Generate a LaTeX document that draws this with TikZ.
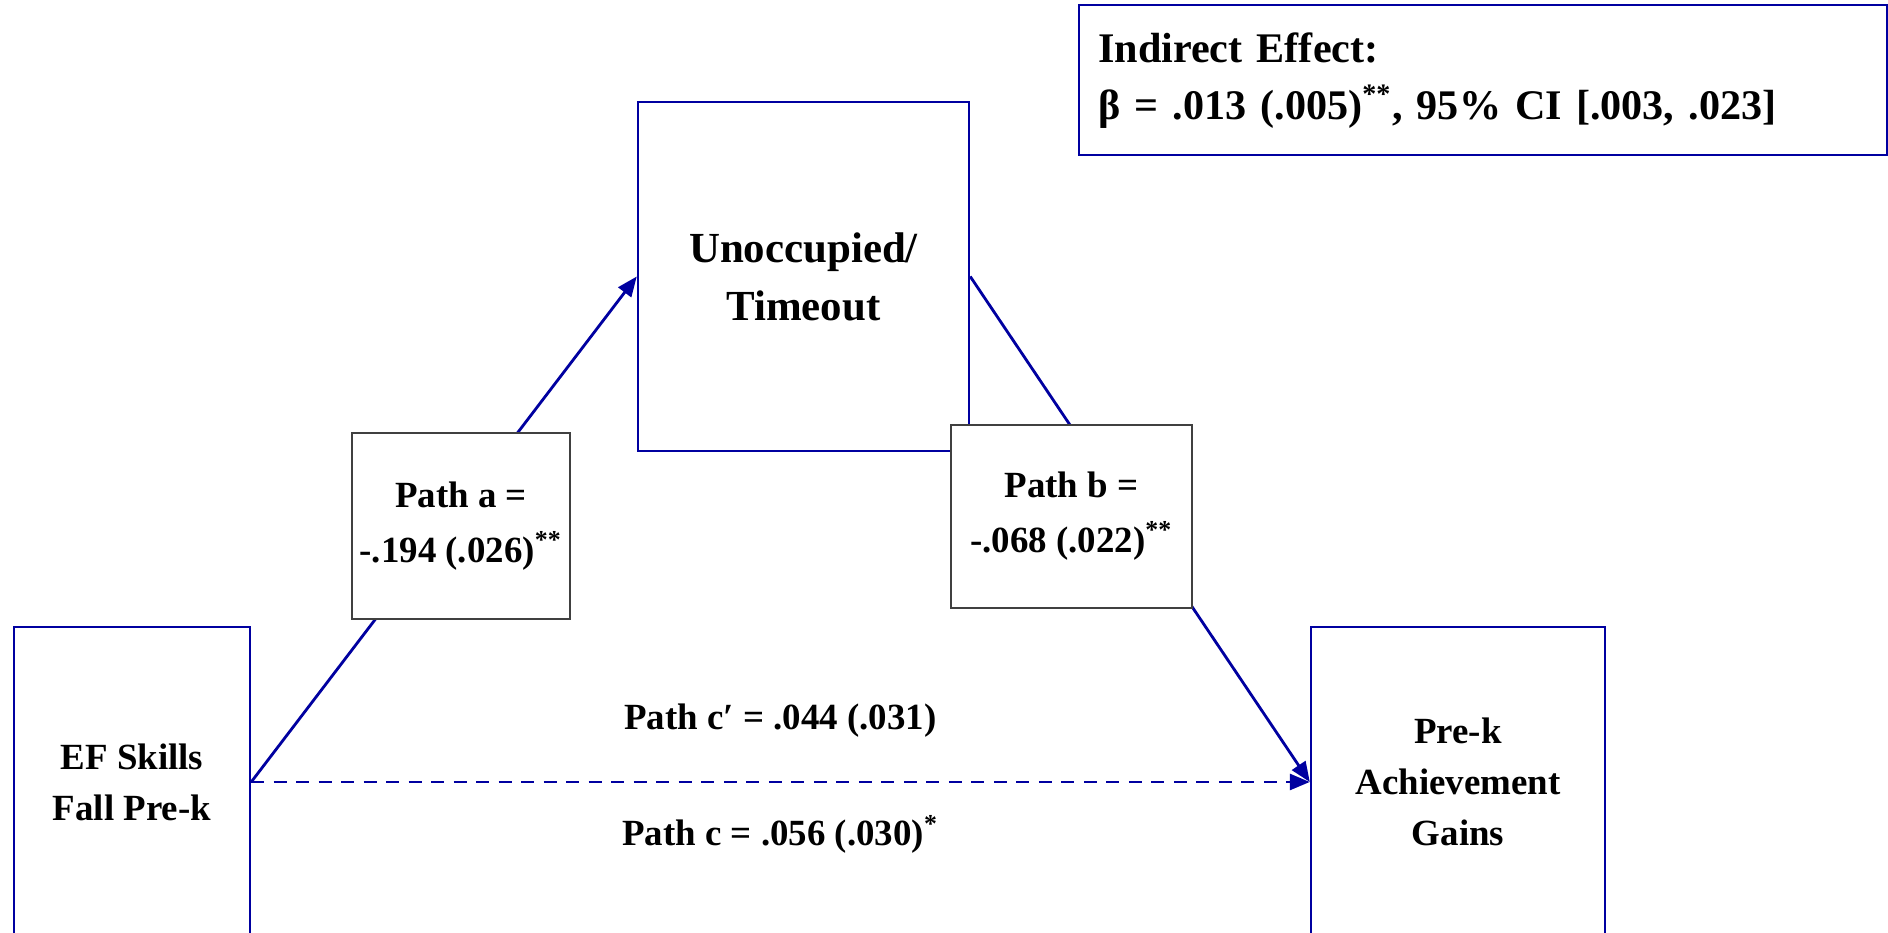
\documentclass[tikz,border=0pt]{standalone}
\usepackage{fontspec}
\setmainfont{Liberation Serif}
\usetikzlibrary{arrows.meta,positioning}
\definecolor{navy}{RGB}{0,0,160}

\begin{document}
\begin{tikzpicture}[line width=0.7pt,>={Triangle[length=0.2cm,width=0.16cm]},
  varbox/.style={draw=navy,fill=white,align=center,font=\fontsize{10.5}{14.5}\selectfont\bfseries},
  pathbox/.style={draw=black!75,line width=0.45pt,fill=white,align=center,inner xsep=0.05cm,
                  font=\fontsize{10.5}{15.6}\selectfont\bfseries},
  pathtxt/.style={anchor=base,font=\fontsize{10.5}{14.5}\selectfont\bfseries},
  conn/.style={->,navy,line width=0.8pt}]
  \useasboundingbox (0,0) rectangle (18.88,9.33);
  \clip (0,0) rectangle (18.88,9.33);
  % variables
  \node[varbox,minimum width=2.36cm,minimum height=3.10cm] (ef) at (1.32,1.51) {EF Skills\\Fall Pre-k};
  \node[varbox,minimum width=2.94cm,minimum height=3.10cm] (prek) at (14.58,1.51) {Pre-k\\Achievement\\Gains};
  \node[varbox,minimum width=3.31cm,minimum height=3.49cm,
        font=\fontsize{12.2}{16.5}\selectfont\bfseries] (unocc) at (8.035,6.565) {Unoccupied/\\Timeout};
  % effet indirect
  \node[draw=navy,fill=white,align=left,anchor=north west,text width=7.7cm,inner xsep=0.19cm,
        minimum height=1.50cm,font=\fontsize{12}{16.2}\selectfont\bfseries] (ind) at (10.78,9.29)
        {Indirect Effect:\\β = .013 (.005)\textsuperscript{**}, 95\% CI [.003, .023]};
  % chemins
  \draw[conn] (ef.east) -- (unocc.west);
  \draw[conn] (unocc.east) -- (prek.west);
  \draw[conn,dash pattern=on 0.13cm off 0.095cm] (ef.east) -- (prek.west) coordinate[midway] (cmid);
  % etiquettes
  \node[pathbox,minimum width=2.18cm,minimum height=1.86cm] (pa) at (4.61,4.07) {Path a =\\-.194 (.026)\textsuperscript{**}};
  \node[pathbox,minimum width=2.41cm,minimum height=1.83cm] (pb) at (10.715,4.165) {Path b =\\-.068 (.022)\textsuperscript{**}};
  \node[pathtxt] (cprime) at ([yshift=0.52cm]cmid) {Path c′ = .044 (.031)};
  \node[pathtxt] (ctotal) at ([yshift=-0.64cm]cmid) {Path c = .056 (.030)\textsuperscript{*}};
\end{tikzpicture}
\end{document}
